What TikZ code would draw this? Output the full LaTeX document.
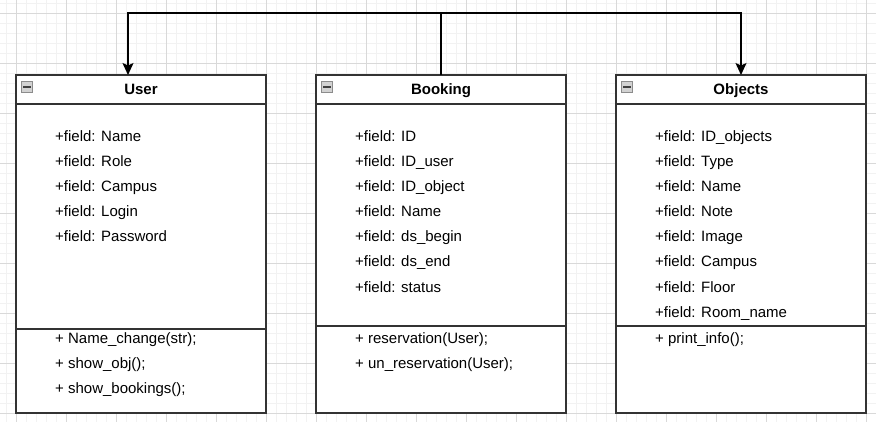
\documentclass[tikz,border=0pt]{standalone}
\usepackage{fontspec}
\setmainfont{Liberation Sans}
\usetikzlibrary{arrows.meta,positioning}
\tikzset{
  classhead/.style={draw=black!80,line width=1.1pt,fill=white,outer sep=0pt,
    minimum width=250pt,minimum height=29pt,inner sep=0pt,
    text height=11pt,text depth=0pt,
    font=\fontsize{15}{18}\selectfont\bfseries},
  classbody/.style={draw=black!80,line width=1.1pt,fill=white,outer sep=0pt,
    minimum width=250pt,minimum height=309pt,inner sep=0pt},
  member/.style={anchor=west,inner sep=0pt,text height=11pt,text depth=1pt,
    font=\fontsize{15}{18}\selectfont},
  minusbox/.style={draw=gray!90,fill=gray!35,minimum size=11pt,inner sep=0pt},
  link/.style={line width=1.2pt,black},
  tip/.style={-{Stealth[length=12pt,width=11pt,inset=2.5pt]}},
}
\begin{document}
\begin{tikzpicture}[x=1pt,y=-1pt]
  \useasboundingbox (0,0) rectangle (876,422);
  % grid
  \foreach \gx in {6,16,...,876} \draw[black!5,line width=0.6pt] (\gx,0) -- (\gx,422);
  \foreach \gy in {3,13,...,423} \draw[black!5,line width=0.6pt] (0,\gy) -- (876,\gy);
  \foreach \gx in {16,66,...,866} \draw[black!15,line width=0.7pt] (\gx,0) -- (\gx,422);
  \foreach \gy in {13,63,...,413} \draw[black!15,line width=0.7pt] (0,\gy) -- (876,\gy);

  % classes
  \node[classhead] (user) at (141,89.5) {User};
  \node[classbody,below=0pt of user] (userbody) {};
  \node[classhead] (booking) at (441,89.5) {Booking};
  \node[classbody,below=0pt of booking] (bookingbody) {};
  \node[classhead] (objects) at (741,89.5) {Objects};
  \node[classbody,below=0pt of objects] (objectsbody) {};
  \draw[classhead] (user.south west) -- (user.south east);
  \draw[classhead] (booking.south west) -- (booking.south east);
  \draw[classhead] (objects.south west) -- (objects.south east);

  \draw[draw=black!80,line width=1.1pt] (userbody.west |- 0,329) -- (userbody.east |- 0,329);
  \draw[draw=black!80,line width=1.1pt] (bookingbody.west |- 0,326) -- (bookingbody.east |- 0,326);
  \draw[draw=black!80,line width=1.1pt] (objectsbody.west |- 0,326) -- (objectsbody.east |- 0,326);

  % collapse icons
  \foreach \cls/\cx in {user/27,booking/327,objects/627} {
    \node[minusbox] (\cls m) at (\cx,87) {};
    \draw[black!75,line width=1.4pt] ([xshift=2pt]\cls m.west) -- ([xshift=-2pt]\cls m.east);
  }

  % members
  \foreach \txt [count=\i] in {Name,Role,Campus,Login,Password}
    \node[member] (userf\i) at (55,112+25*\i) {+field: \txt};
  \foreach \txt [count=\i] in {Name\_change(str);,show\_obj();,show\_bookings();}
    \node[member] (userm\i) at (55,313+25*\i) {+ \txt};

  \foreach \txt [count=\i] in {ID,ID\_user,ID\_object,Name,ds\_begin,ds\_end,status}
    \node[member] (bookingf\i) at (355,112+25*\i) {+field: \txt};
  \foreach \txt [count=\i] in {reservation(User);,un\_reservation(User);}
    \node[member] (bookingm\i) at (355,313+25*\i) {+ \txt};

  \foreach \txt [count=\i] in {ID\_objects,Type,Name,Note,Image,Campus,Floor,Room\_name}
    \node[member] (objectsf\i) at (655,112+25*\i) {+field: \txt};
  \node[member] (objectsm1) at (655,338) {+ print\_info();};

  % links
  \coordinate (top) at (441,13);
  \draw[link] (booking.north) -- (top);
  \draw[link,tip] (top) -| ([xshift=-13pt]user.north);
  \draw[link,tip] (top) -| (objects.north);
\end{tikzpicture}
\end{document}
